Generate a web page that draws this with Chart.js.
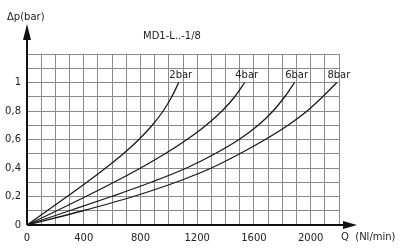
<!DOCTYPE html>
<html>
<head>
<meta charset="utf-8">
<script src="https://cdn.jsdelivr.net/npm/chart.js@4/dist/chart.umd.min.js"></script>
<style>
  html, body { margin: 0; padding: 0; background: #fff; }
  #wrap { width: 400px; height: 248px; }
</style>
</head>
<body>
<div id="wrap"><canvas id="chart" width="400" height="248"></canvas></div>
<script>
// Dados (Q em Nl/min, Δp em bar)
const seriesNames = ['2bar', '4bar', '6bar', '8bar'];
const dpLevels = [0, 0.1, 0.2, 0.3, 0.4, 0.5, 0.6, 0.7, 0.8, 0.9, 1.0];
const q2 = [0, 142, 283, 422, 555, 679, 789, 883, 960, 1021, 1070];
const q4 = [0, 210, 415, 613, 801, 973, 1128, 1263, 1375, 1465, 1535];
const q6 = [0, 300, 595, 875, 1125, 1325, 1495, 1630, 1735, 1817, 1887];
const q8 = [0, 395, 750, 1050, 1300, 1500, 1680, 1840, 1975, 2085, 2185];

// Rótulos dos eixos
const xTickValues = [0, 400, 800, 1200, 1600, 2000];
const yTickLabels = ['0', '', '0,2', '', '0,4', '', '0,6', '', '0,8', '', '1', '', ''];
const chartTitle = 'MD1-L..-1/8';
const yAxisTitle = '\u0394p(bar)';
const xAxisTitle = 'Q  (Nl/min)';

const FONT = '"DejaVu Sans", sans-serif';

function toPoints(qs, ps) {
    return qs.map(function(q, i) { return { x: q, y: ps[i] }; });
}

// Setas dos eixos, título e nomes das curvas
const decorPlugin = {
    id: 'decor',
    afterDraw: function(chart) {
        const ctx = chart.ctx;
        const area = chart.chartArea;
        ctx.save();
        ctx.strokeStyle = '#111';
        ctx.fillStyle = '#111';
        ctx.lineWidth = 2;

        // eixo y com seta
        ctx.beginPath();
        ctx.moveTo(area.left, area.bottom);
        ctx.lineTo(area.left, area.top - 16);
        ctx.stroke();
        ctx.beginPath();
        ctx.moveTo(area.left, area.top - 30);
        ctx.lineTo(area.left - 4, area.top - 14);
        ctx.lineTo(area.left + 4, area.top - 14);
        ctx.closePath();
        ctx.fill();

        // eixo x com seta
        ctx.beginPath();
        ctx.moveTo(area.left, area.bottom);
        ctx.lineTo(area.right + 6, area.bottom);
        ctx.stroke();
        ctx.beginPath();
        ctx.moveTo(area.right + 18, area.bottom);
        ctx.lineTo(area.right + 4, area.bottom - 4);
        ctx.lineTo(area.right + 4, area.bottom + 4);
        ctx.closePath();
        ctx.fill();

        // textos
        ctx.fillStyle = '#222';
        ctx.font = '10px ' + FONT;
        ctx.textBaseline = 'middle';
        ctx.textAlign = 'left';
        ctx.fillText(yAxisTitle, 7, 17);
        ctx.fillText(xAxisTitle, area.right + 2, area.bottom + 12);
        ctx.textAlign = 'center';
        ctx.fillText(chartTitle, 172, 36);

        // nomes das curvas no fim de cada linha
        chart.data.datasets.forEach(function(ds, i) {
            const meta = chart.getDatasetMeta(i);
            const last = meta.data[meta.data.length - 1];
            ctx.fillText(seriesNames[i], last.x + 2, last.y - 7);
        });
        ctx.restore();
    }
};

function makeDataset(qs) {
    return {
        data: toPoints(qs, dpLevels),
        borderColor: '#1a1a1a',
        borderWidth: 1.3,
        pointRadius: 0,
        fill: false,
        cubicInterpolationMode: 'monotone'
    };
}

new Chart(document.getElementById('chart'), {
    type: 'line',
    data: {
        datasets: [
            makeDataset(q2),
            makeDataset(q4),
            makeDataset(q6),
            makeDataset(q8)
        ]
    },
    options: {
        responsive: false,
        animation: false,
        events: [],
        layout: { padding: { left: 0, top: 54, right: 61, bottom: 0 } },
        plugins: {
            legend: { display: false },
            tooltip: { enabled: false },
            title: { display: false }
        },
        scales: {
            x: {
                type: 'linear',
                min: 0,
                max: 2200,
                afterFit: function(scale) { scale.height = 23; },
                border: { display: false },
                grid: { color: '#8a8a8a', lineWidth: 1, drawTicks: false },
                ticks: {
                    stepSize: 100,
                    autoSkip: false,
                    maxRotation: 0,
                    padding: 7,
                    color: '#222',
                    font: { family: FONT, size: 10 },
                    callback: function(value) {
                        return xTickValues.includes(value) ? String(value) : '';
                    }
                }
            },
            y: {
                type: 'linear',
                min: 0,
                max: 1.2,
                afterFit: function(scale) { scale.width = 27; },
                border: { display: false },
                grid: { color: '#8a8a8a', lineWidth: 1, drawTicks: false },
                ticks: {
                    stepSize: 0.1,
                    autoSkip: false,
                    padding: 6,
                    color: '#222',
                    font: { family: FONT, size: 10 },
                    callback: function(value) {
                        return yTickLabels[Math.round(value * 10)] || '';
                    }
                }
            }
        }
    },
    plugins: [decorPlugin]
});
</script>
</body>
</html>
